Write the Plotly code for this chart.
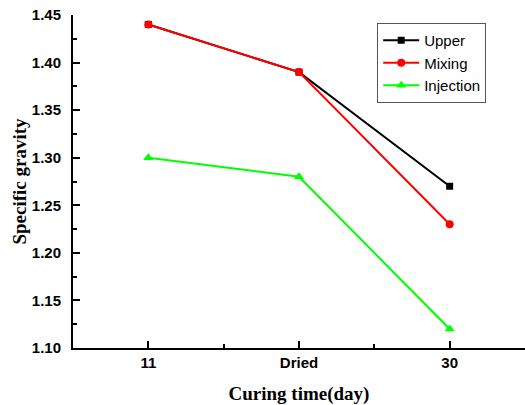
import plotly.graph_objects as go

categories = ["11", "Dried", "30"]
upper = [1.44, 1.39, 1.27]
mixing = [1.44, 1.39, 1.23]
injection = [1.30, 1.28, 1.12]
y_ticks = [1.10, 1.15, 1.20, 1.25, 1.30, 1.35, 1.40, 1.45]

xpos = list(range(len(categories)))

fig = go.Figure()
fig.add_trace(go.Scatter(x=xpos, y=upper, name="Upper", mode="lines+markers",
                         line=dict(color="black", width=2),
                         marker=dict(symbol="square", size=7, color="black")))
fig.add_trace(go.Scatter(x=xpos, y=mixing, name="Mixing", mode="lines+markers",
                         line=dict(color="#ff0000", width=2),
                         marker=dict(symbol="circle", size=8, color="#ff0000")))
fig.add_trace(go.Scatter(x=xpos, y=injection, name="Injection", mode="lines+markers",
                         line=dict(color="#00ff00", width=2),
                         marker=dict(symbol="triangle-up", size=9, color="#00ff00")))

fig.update_layout(
    width=525, height=405,
    margin=dict(l=73, r=0, t=15, b=57, autoexpand=False),
    paper_bgcolor="white", plot_bgcolor="white",
    showlegend=True,
    legend=dict(x=0.673, y=0.976, xanchor="left", yanchor="top",
                bordercolor="#555555", borderwidth=1, bgcolor="white",
                font=dict(family="Liberation Sans, Arial", size=15, color="black"),
                tracegroupgap=0, itemwidth=36),
    xaxis=dict(range=[-0.5, 2.5], tickmode="array", tickvals=xpos, ticktext=categories,
               showline=True, linecolor="black", linewidth=2, mirror=False,
               ticks="inside", ticklen=7, tickwidth=1.5, tickcolor="black",
               showgrid=False, zeroline=False, automargin=False,
               tickfont=dict(family="Liberation Sans, Arial", size=15, color="black", weight="bold"),
               minor=dict(tickmode="array", tickvals=[0.5, 1.5], ticks="inside", ticklen=4,
                          tickwidth=1.5, tickcolor="black"),
               title=dict(text="Curing time(day)", standoff=17,
                          font=dict(family="Liberation Serif, Times New Roman", size=19,
                                    color="black", weight="bold"))),
    yaxis=dict(range=[1.10, 1.45], tickmode="array", tickvals=y_ticks,
               ticktext=[f"{v:.2f}" for v in y_ticks],
               showline=True, linecolor="black", linewidth=2, mirror=False,
               ticks="inside", ticklen=7, tickwidth=1.5, tickcolor="black",
               showgrid=False, zeroline=False, automargin=False, ticklabelstandoff=7,
               tickfont=dict(family="Liberation Sans, Arial", size=15, color="black", weight="bold"),
               minor=dict(tickmode="array", tickvals=[1.125, 1.175, 1.225, 1.275, 1.325, 1.375, 1.425],
                          ticks="inside", ticklen=4, tickwidth=1.5, tickcolor="black"),
               title=dict(text="Specific gravity", standoff=0,
                          font=dict(family="Liberation Serif, Times New Roman", size=19,
                                    color="black", weight="bold"))),
)

fig.write_html("out.html", config={"displayModeBar": False},
               post_script="document.body.style.margin='0';document.body.style.overflow='hidden';")
